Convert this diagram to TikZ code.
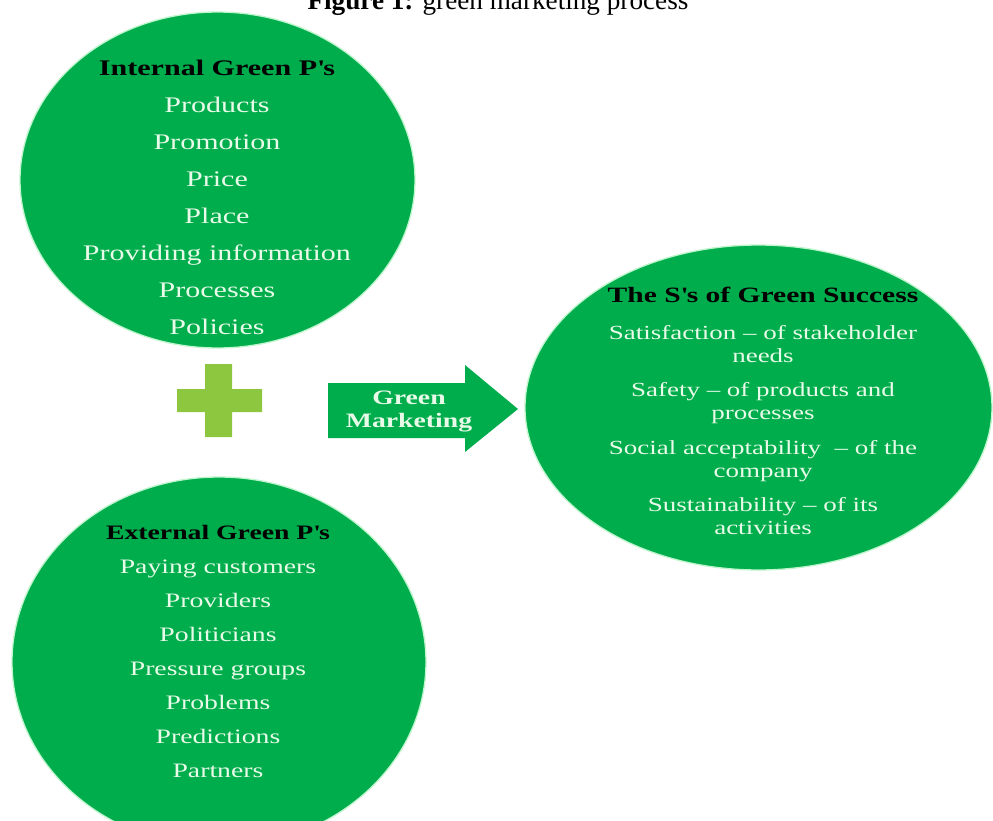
\documentclass[tikz,border=0pt]{standalone}
\usepackage{fontspec}
\setmainfont{Liberation Serif}[FakeStretch=1.35]
\newfontfamily\titlefont{Liberation Serif}
\usetikzlibrary{shapes.geometric}
\definecolor{pgreen}{RGB}{0,173,76}
\definecolor{plusgreen}{RGB}{141,198,63}
\definecolor{mint}{RGB}{232,250,232}
\definecolor{glow}{RGB}{190,245,205}
\begin{document}
\begin{tikzpicture}[x=0.75pt,y=-0.75pt,
		blob/.style={ellipse,fill=pgreen,draw=glow,line width=1pt,inner sep=0pt},
		list/.style={align=center,text=mint,inner sep=0pt}]
	\clip (0,0) rectangle (993,821);
	% caption, cut by the top edge
	\node[anchor=base,inner sep=0pt,font=\titlefont\fontsize{20.4}{24}\selectfont] (title) at (498,9) {\textbf{Figure 1:} green marketing process};
	% the three groups
	\node[blob,minimum width=296.25pt,minimum height=252pt] (ip) at (217.5,180) {};
	\node[blob,minimum width=310.5pt,minimum height=277.5pt] (ep) at (219,662) {};
	\node[blob,minimum width=350.25pt,minimum height=243.75pt] (ss) at (758.5,407.5) {};
	\node[list,font=\fontsize{16.7}{27.75}\selectfont] (ipt) at (217,197) {\textcolor{black}{\textbf{Internal Green P\textquotesingle s}}\\Products\\Promotion\\Price\\Place\\Providing information\\Processes\\Policies};
	\node[list,font=\fontsize{15.4}{25.4}\selectfont] (ept) at (218,651.5) {\textcolor{black}{\textbf{External Green P\textquotesingle s}}\\Paying customers\\Providers\\Politicians\\Pressure groups\\Problems\\Predictions\\Partners};
	\node[list,font=\fontsize{15}{17.25}\selectfont] (sst) at (763,411) {\textcolor{black}{\fontsize{16.4}{17.25}\selectfont\textbf{The S\textquotesingle s of Green Success}}\\[10.5pt]Satisfaction -- of stakeholder\\needs\\[8.6pt]Safety -- of products and\\processes\\[8.6pt]Social acceptability \ -- of the\\company\\[8.6pt]Sustainability -- of its\\activities};
	% plus sign
	\fill[plusgreen] (177,389) rectangle (262,412) (205,364) rectangle (232,437);
	% block arrow
	\fill[pgreen] (328,383) -- (465,383) -- (465,365) -- (518,409) -- (465,452) -- (465,438) -- (328,438) -- cycle;
	\node[list,font=\bfseries\fontsize{15.4}{17.3}\selectfont] (gm) at (409,411.5) {Green\\Marketing};
\end{tikzpicture}
\end{document}
